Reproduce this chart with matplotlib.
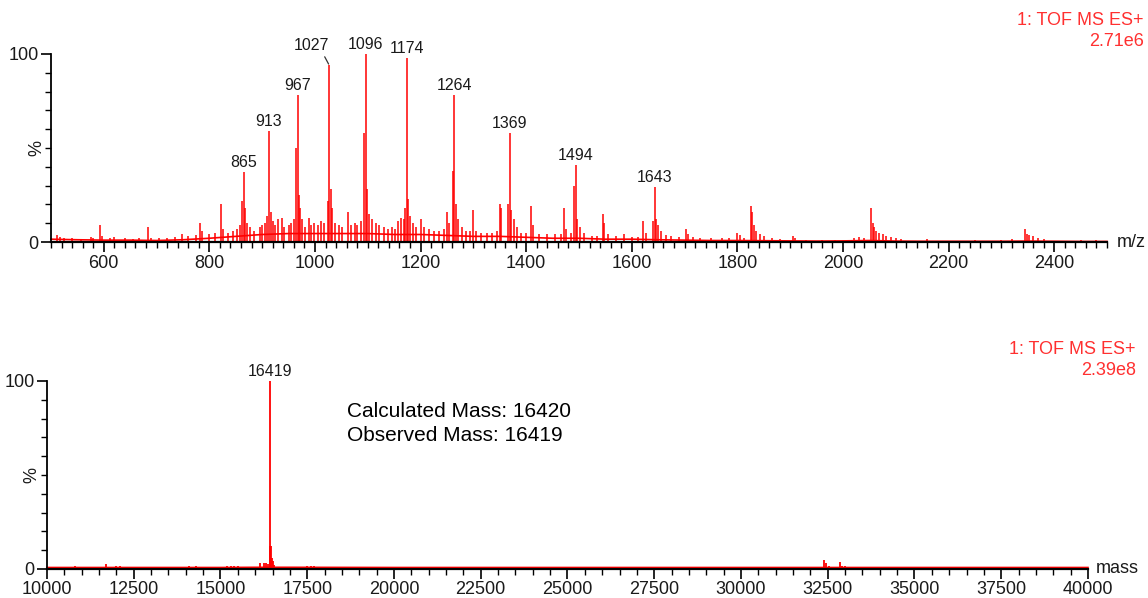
import matplotlib
matplotlib.use("Agg")
import matplotlib.pyplot as plt
from matplotlib.ticker import MultipleLocator, FixedLocator
from matplotlib.transforms import blended_transform_factory

plt.rcParams['font.family'] = ['Liberation Sans', 'DejaVu Sans']

# ---- top spectrum (m/z) ----
top_base_mz = [500, 550, 600, 650, 700, 750, 800, 850, 900, 950, 1000, 1050, 1100,
               1150, 1200, 1250, 1300, 1350, 1400, 1450, 1500, 1550, 1600, 1650,
               1700, 1750, 1800, 1850, 1900, 1950, 2000, 2050, 2100, 2150, 2200,
               2250, 2300, 2350, 2400, 2450, 2500]
top_base_pct = [1.5, 1.2, 1.0, 1.0, 0.8, 1.2, 2.0, 3.0, 4.0, 4.5, 4.5, 4.5, 4.5,
                4.0, 4.0, 3.5, 3.0, 3.0, 2.5, 2.0, 2.0, 1.5, 1.5, 1.2,
                1.0, 0.8, 0.8, 0.7, 0.6, 0.5, 0.6, 0.8, 0.5, 0.4, 0.4,
                0.4, 0.4, 0.5, 0.4, 0.3, 0.3]

top_peak_mz = [512, 518, 525, 540, 556, 575, 580, 593, 597, 612, 620, 640, 655, 667,
               684, 690, 705, 720, 735, 748, 760, 775, 783, 786, 800, 810, 822, 825,
               835, 845, 852, 858, 862, 865, 868, 871, 876, 885, 895, 900, 905, 910,
               913, 916, 920, 925, 930, 938, 942, 950, 955, 960, 964, 967, 969, 972,
               976, 982, 988, 993, 998, 1005, 1012, 1018, 1024, 1027, 1030, 1033,
               1038, 1045, 1052, 1062, 1068, 1075, 1080, 1087, 1093, 1096, 1099,
               1103, 1108, 1115, 1122, 1130, 1138, 1145, 1152, 1158, 1163, 1168,
               1171, 1174, 1176, 1180, 1186, 1192, 1201, 1206, 1215, 1225, 1235,
               1244, 1250, 1254, 1261, 1264, 1267, 1271, 1278, 1286, 1294, 1300,
               1305, 1315, 1325, 1335, 1345, 1350, 1353, 1366, 1369, 1372, 1376,
               1382, 1390, 1400, 1410, 1413, 1425, 1440, 1455, 1465, 1472, 1476,
               1485, 1491, 1494, 1497, 1502, 1510, 1525, 1535, 1545, 1548, 1555,
               1570, 1585, 1600, 1612, 1622, 1627, 1640, 1643, 1646, 1650, 1656,
               1665, 1675, 1690, 1702, 1706, 1715, 1730, 1750, 1770, 1785, 1800,
               1804, 1812, 1825, 1828, 1832, 1836, 1842, 1850, 1865, 1880, 1905,
               1910, 1930, 1960, 1985, 2020, 2030, 2040, 2053, 2056, 2059, 2063,
               2068, 2075, 2082, 2090, 2100, 2110, 2160, 2250, 2300, 2320, 2345,
               2348, 2353, 2360, 2370, 2380, 2450, 2480]
top_peak_pct = [3.5, 2.5, 2, 2.2, 1.8, 2.5, 2, 9, 3, 2, 2.8, 2, 1.8, 2,
                8, 2, 2, 2, 2.5, 4, 3, 3.5, 10, 6, 4, 5, 20, 7,
                5, 6, 7, 9, 22, 37, 18, 10, 8, 6, 8, 9, 10, 14,
                59, 16, 11, 9, 12, 13, 8, 9, 10, 12, 50, 78, 25, 18,
                12, 8, 13, 9, 10, 9, 11, 10, 22, 94, 28, 18,
                10, 9, 8, 16, 9, 10, 9, 11, 58, 100, 28,
                15, 12, 10, 9, 8, 7, 8, 7, 11, 13, 12,
                18, 98, 23, 14, 10, 8, 12, 8, 7, 6, 6,
                7, 16, 10, 38, 78, 20, 12, 8, 6, 6, 17,
                6, 5, 5, 5, 6, 20, 18, 20, 58, 17, 12,
                8, 5, 5, 19, 9, 4, 4, 4, 4, 18, 7,
                5, 30, 41, 12, 8, 5, 3, 3, 15, 10, 4,
                3, 4, 2.5, 2.5, 11, 5, 11, 29, 12, 9, 6,
                3.5, 3, 2.5, 7, 4, 2.5, 2, 2, 2, 2, 5,
                3.5, 2, 19, 16, 9, 6, 4, 3, 2, 1.5, 3,
                2, 1, 1, 1, 2, 2.5, 2, 18, 10, 8, 6,
                5, 4, 3, 2.5, 2, 1.5, 1.5, 1, 1, 1.5, 7,
                4, 3.5, 3, 2, 1.5, 1, 1]

top_labels = [865, 913, 967, 1027, 1096, 1174, 1264, 1369, 1494, 1643]
top_label_pct = [37, 59, 78, 94, 100, 98, 78, 58, 41, 29]

# ---- bottom spectrum (deconvoluted mass) ----
bot_base_mass = [10000, 15000, 16000, 17000, 20000, 25000, 30000, 35000, 40000]
bot_base_pct = [0.8, 0.8, 0.9, 0.9, 0.8, 0.8, 0.8, 0.8, 0.8]

bot_peak_mass = [10800, 11000, 11100, 11300, 11700, 11900, 12000, 12100, 12500,
                 13000, 13200, 14100, 14300, 14800, 15200, 15300, 15400, 15500,
                 16150, 16250, 16320, 16380, 16419, 16435, 16455, 16480, 16500,
                 16550, 16700, 17500, 17600, 17700, 17800, 18400, 18600, 18800,
                 19000, 19600, 20000, 20500, 21200, 22000, 22800, 23500, 24300,
                 25100, 25800, 26600, 27300, 28000, 28800, 29500, 30000, 30500,
                 31200, 31800, 32400, 32450, 32550, 32850, 32900, 33000, 33400,
                 34000, 34800, 35200, 35800, 36500, 37000, 37600, 38200, 38800,
                 39200, 39600, 39900]
bot_peak_pct = [1.5, 1.2, 1, 1.2, 2.5, 1.2, 1.5, 1.5, 1,
                1.2, 1, 1.5, 1.5, 1.2, 1.8, 1.8, 1.8, 1.5,
                3, 3, 3, 2.5, 100, 12, 12, 6, 4,
                2, 1.2, 1.5, 1.8, 1.5, 1.2, 1.2, 1.3, 1.2,
                1.3, 1, 1.2, 1, 1, 1, 1, 1, 1,
                1, 1, 1, 1, 1, 1, 1, 1.2, 1,
                1, 1, 5, 3, 1.5, 3.5, 1.5, 1.5, 1,
                1, 1, 1, 1, 1, 1.2, 1, 1, 1,
                1, 1, 1]

RED = '#ff0000'
TXT = '#1a1a1a'

fig = plt.figure(figsize=(11.48, 5.98), dpi=100, facecolor='white')
ax1 = fig.add_axes([0.0444, 0.5953, 0.9199, 0.3144])
ax2 = fig.add_axes([0.0409, 0.0485, 0.9068, 0.3144])


def style_axis(ax, xlim, major, minor, unit, unit_dx, pct_x):
    ax.set_xlim(*xlim)
    ax.set_ylim(0, 100)
    for s in ['top', 'right']:
        ax.spines[s].set_visible(False)
    ax.spines['bottom'].set_linewidth(1.6)
    ax.spines['left'].set_linewidth(1.3)
    ax.xaxis.set_major_locator(MultipleLocator(major))
    ax.xaxis.set_minor_locator(MultipleLocator(minor))
    ax.yaxis.set_major_locator(FixedLocator([0, 100]))
    ax.yaxis.set_minor_locator(MultipleLocator(10))
    ax.tick_params(axis='both', which='major', length=7, width=1.2,
                   labelsize=13, labelcolor=TXT, pad=2)
    ax.tick_params(axis='both', which='minor', length=4, width=1.0)
    trans = blended_transform_factory(ax.transAxes, ax.transData)
    ax.text(pct_x, 50, '%', rotation=90, transform=trans, ha='center',
            va='center', fontsize=13, color=TXT)
    ax.text(1 + unit_dx, 0, unit, transform=trans, ha='left', va='center',
            fontsize=13, color=TXT)


# top panel
ax1.vlines(top_peak_mz, 0, top_peak_pct, color=RED, lw=1.1, clip_on=False)
ax1.plot(top_base_mz, top_base_pct, color=RED, lw=1.2, clip_on=False)
style_axis(ax1, (500, 2500), 200, 20, 'm/z', 0.009, -0.0135)

for mz, pct in zip(top_labels, top_label_pct):
    if mz == 1027:
        ax1.annotate(str(mz), xy=(mz, pct), xytext=(-18, 20),
                     textcoords='offset pixels', ha='center', va='center',
                     fontsize=11.5, color=TXT,
                     arrowprops=dict(arrowstyle='-', color='#333333', lw=0.9,
                                     relpos=(0.82, 0.0), shrinkA=1, shrinkB=1))
    else:
        ax1.annotate(str(mz), xy=(mz, pct), xytext=(0, 5),
                     textcoords='offset pixels', ha='center', va='baseline',
                     fontsize=11.5, color=TXT)

fig.text(0.9965, 0.965, '1: TOF MS ES+', ha='right', va='center',
         fontsize=13, color='#ff3030')
fig.text(0.9965, 0.930, '2.71e6', ha='right', va='center',
         fontsize=13, color='#ff3030')

# bottom panel
ax2.vlines(bot_peak_mass, 0, bot_peak_pct, color=RED, lw=1.3, clip_on=False)
ax2.plot(bot_base_mass, bot_base_pct, color=RED, lw=1.2, clip_on=False)
style_axis(ax2, (10000, 40000), 2500, 500, 'mass', 0.008, -0.0145)

ax2.annotate('16419', xy=(16419, 100), xytext=(0, 5),
             textcoords='offset pixels', ha='center', va='baseline',
             fontsize=11.5, color=TXT)
ax2.text(0.288, 0.775, 'Calculated Mass: 16420\nObserved Mass: 16419',
         transform=ax2.transAxes, ha='left', va='center', fontsize=15,
         color='black', linespacing=1.3)

fig.text(0.9895, 0.415, '1: TOF MS ES+', ha='right', va='center',
         fontsize=13, color='#ff3030')
fig.text(0.9895, 0.381, '2.39e8', ha='right', va='center',
         fontsize=13, color='#ff3030')

fig.savefig('out.png', dpi=100, facecolor='white')
